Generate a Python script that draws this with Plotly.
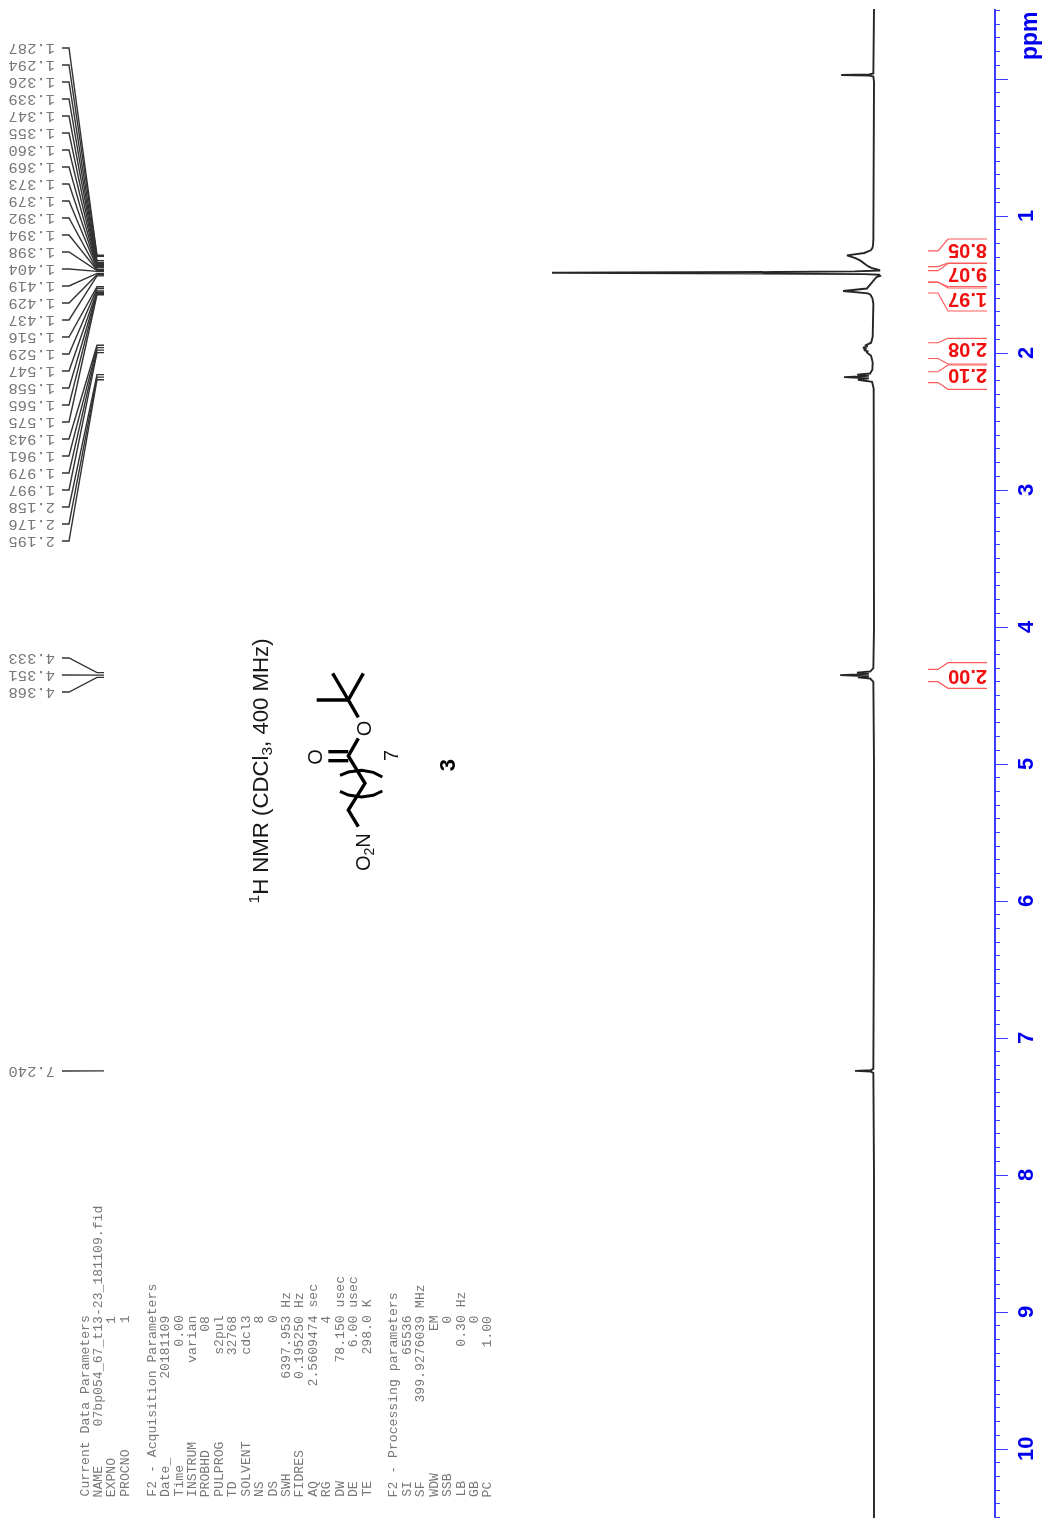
import plotly.graph_objects as go

W, H = 1043, 1528
TOP, BOTTOM = 9, 1518          # pixel extent of the ppm axis
PX_ZERO, PX_PER_PPM = 79.0, 137.0
BASE_X, PX_PER_UNIT = 874.0, 3.22


def ppm_at(py):
    return (py - PX_ZERO) / PX_PER_PPM


# ---- spectrum, ppm against intensity (% of tallest peak) ----
spec_ppm = [-0.511, -0.07, -0.04, -0.033, -0.029, -0.025, -0.018, 0.02, 0.5, 1.0, 1.17, 1.215, 1.234,
            1.25, 1.27, 1.287, 1.294, 1.307, 1.326, 1.339, 1.347, 1.355, 1.360, 1.369,
            1.373, 1.379, 1.392, 1.394, 1.398, 1.404, 1.409, 1.414, 1.419, 1.424, 1.429, 1.437,
            1.445, 1.482, 1.516, 1.529, 1.547, 1.558, 1.565, 1.575, 1.60, 1.64, 1.75, 1.88, 1.925,
            1.943, 1.952, 1.961, 1.970, 1.979, 1.988, 1.997, 2.02, 2.07, 2.12, 2.15, 2.158, 2.167,
            2.176, 2.185, 2.195, 2.21, 2.26, 3.0, 4.0, 4.30, 4.325, 4.333, 4.342, 4.351, 4.36,
            4.368, 4.376, 4.40, 5.0, 6.0, 7.0, 7.225, 7.235, 7.240, 7.245, 7.255, 8.0, 9.0, 10.0, 10.504]
spec_int = [0, 0, 0.2, 1.5, 10.2, 1.5, 0.2, 0, 0, 0.1, 0.2, 0.3, 0.5,
            1.0, 3, 8.4, 7.5, 5.8, 4.2, 3.6, 3.2, 2.6, 2.3, 1.6,
            1.2, 0.8, -1.2, -1.8, -1.9, 6, 30, 100, 28, 3, -1.6, -1.9,
            -0.8, 0.4, 1.6, 2.2, 9.6, 3.4, 1.9, 1.1, 0.5, 0.2, 0.2, 0.4, 0.9,
            2.5, 2.0, 3.4, 2.6, 3.1, 2.0, 2.2, 0.9, 0.4, 0.5, 1.2, 5.2, 1.6,
            9.3, 1.6, 5.0, 0.6, 0.1, 0, 0, 0.2, 1.2, 5.3, 1.6, 10.5, 1.6,
            5.0, 1.2, 0.2, 0, 0, 0, 0.2, 1, 5.9, 1, 0.2, 0, 0, 0, 0]

# ---- peak picking labels ----
peaks_main = [1.287, 1.294, 1.326, 1.339, 1.347, 1.355, 1.360, 1.369, 1.373, 1.379,
              1.392, 1.394, 1.398, 1.404, 1.419, 1.429, 1.437, 1.516, 1.529, 1.547,
              1.558, 1.565, 1.575, 1.943, 1.961, 1.979, 1.997, 2.158, 2.176, 2.195]
peaks_mid = [4.333, 4.351, 4.368]
peaks_solvent = [7.240]

# ---- integrals: value, start ppm, end ppm ----
integral_labels = ["8.05", "9.07", "1.97", "2.08", "2.10", "2.00"]
integral_start = [1.254, 1.399, 1.482, 1.925, 2.137, 4.310]
integral_end = [1.369, 1.484, 1.562, 2.040, 2.216, 4.399]

# ---- axis ----
tick_values = [0, 1, 2, 3, 4, 5, 6, 7, 8, 9, 10]
tick_labels = ["", "1", "2", "3", "4", "5", "6", "7", "8", "9", "10"]

# ---- acquisition text ----
param_rows = [
    ("Current Data Parameters", "", ""),
    ("NAME", "07bp054_67_t13-23_181109.fid", ""),
    ("EXPNO", "1", ""),
    ("PROCNO", "1", ""),
    ("", "", ""),
    ("F2 - Acquisition Parameters", "", ""),
    ("Date_", "20181109", ""),
    ("Time", "0.00", ""),
    ("INSTRUM", "varian", ""),
    ("PROBHD", "08", ""),
    ("PULPROG", "s2pul", ""),
    ("TD", "32768", ""),
    ("SOLVENT", "cdcl3", ""),
    ("NS", "8", ""),
    ("DS", "0", ""),
    ("SWH", "6397.953", "Hz"),
    ("FIDRES", "0.195250", "Hz"),
    ("AQ", "2.5609474", "sec"),
    ("RG", "4", ""),
    ("DW", "78.150", "usec"),
    ("DE", "6.00", "usec"),
    ("TE", "298.0", "K"),
    ("", "", ""),
    ("F2 - Processing parameters", "", ""),
    ("SI", "65536", ""),
    ("SF", "399.9276039", "MHz"),
    ("WDW", "EM", ""),
    ("SSB", "0", ""),
    ("LB", "0.30", "Hz"),
    ("GB", "0", ""),
    ("PC", "1.00", ""),
]

BLUE_LINE, BLUE_TEXT = "#3c3cff", "#0000ee"
RED_LINE, RED_TEXT = "#ff5a5a", "#f01010"
TEXT_GREY, LEAD = "#777777", "#333333"

fig = go.Figure()

# Spectrum on the intensity axis
fig.add_trace(go.Scatter(x=spec_int, y=spec_ppm, mode="lines", xaxis="x", yaxis="y",
                         line=dict(color="#262626", width=1.9), hoverinfo="skip"))


def px_line(xs, ys, color, width):
    fig.add_trace(go.Scatter(x=xs, y=[ppm_at(v) for v in ys], mode="lines", xaxis="x2", yaxis="y",
                             line=dict(color=color, width=width), hoverinfo="skip"))


annotations = []


def note(text, px, py, size, color, family, angle=0, bold=False, xanchor="center", yanchor="middle"):
    annotations.append(dict(
        text=f"<b>{text}</b>" if bold else text,
        xref="paper", yref="y", x=px / W, y=ppm_at(py), showarrow=False, textangle=angle,
        xanchor=xanchor, yanchor=yanchor, borderpad=0, borderwidth=0,
        font=dict(size=size, color=color, family=family)))


# Peak labels with leader lines
def leaders(values, first_slot, step, x0=69):
    for i, v in enumerate(values):
        slot = first_slot + i * step
        peak_y = PX_ZERO + v * PX_PER_PPM
        px_line([62, x0, 97, 104], [slot, slot, peak_y, peak_y], LEAD, 1.4)
        note(f"{v:.3f}", 31.5, slot, 15.5, TEXT_GREY, "Liberation Mono", angle=180)


leaders(peaks_main, 48, 17.0)
leaders(peaks_mid, 658, 17.0)
leaders(peaks_solvent, 1071, 0)

# Integrals
integral_slots = [(239, 263), (263.5, 286.5), (288, 311), (338.3, 364), (365, 389.3), (662.7, 688.3)]
label_y = [251, 275, 300, 350, 376, 677]
for lab, a, b, (s0, s1), ly in zip(integral_labels, integral_start, integral_end, integral_slots, label_y):
    for v, s in ((a, s0), (b, s1)):
        py = PX_ZERO + v * PX_PER_PPM
        px_line([928, 938, 948, 987], [py, py, s, s], RED_LINE, 1.2)
    note(lab, 967.5, ly, 20, RED_TEXT, "Liberation Sans", angle=180, bold=True)

# Parameter block
for i, (name, value, unit) in enumerate(param_rows):
    if not name:
        continue
    if value:
        line = name.ljust(9) + value if len(value) > 14 else name.ljust(8) + value.rjust(15)
        if unit:
            line += " " + unit
    else:
        line = name
    note(line.replace(" ", "\u00a0"), 85 + i * 13.43, 1497, 13.15, TEXT_GREY, "Liberation Mono",
         angle=-90, yanchor="bottom")

# Title and compound number
note("<sup>1</sup>H NMR (CDCl<sub>3</sub>, 400 MHz)", 260, 771.5, 22.2, "#1a1a1a", "Liberation Sans", angle=-90)
note("ppm", 1029, 36, 23, BLUE_TEXT, "Liberation Sans", angle=-90, bold=True)


# Structure drawing
def zx(v):
    return 230 + v / 3


def zy(v):
    return 630 + v / 3


bonds = [
    [(400, 130), (355, 210), (385, 262)],
    [(308, 130), (355, 210)],
    [(260, 210), (355, 210)],
    [(385, 325), (355, 378), (405, 460), (355, 540), (385, 590)],
    [(295, 365), (355, 365)],
    [(295, 392), (355, 392)],
]
for b in bonds:
    px_line([zx(p[0]) for p in b], [zy(p[1]) for p in b], "#000000", 3.4)
arcs = [
    [(330, 436), (355, 426), (395, 421), (430, 427), (457, 441)],
    [(330, 484), (355, 495), (395, 501), (430, 496), (457, 483)],
]
for a in arcs:
    px_line([zx(p[0]) for p in a], [zy(p[1]) for p in a], "#000000", 3)

note("O", zx(402), zy(295), 20, "#111111", "Liberation Sans", angle=-90)
note("O", zx(255), zy(380), 20, "#111111", "Liberation Sans", angle=-90)
note("O<sub>2</sub>N", zx(403), zy(665), 20, "#111111", "Liberation Sans", angle=-90)
note("7", zx(483), zy(378), 20, "#111111", "Liberation Sans", angle=-90)
note("3", zx(652), zy(405), 22, "#000000", "Liberation Sans", angle=-90, bold=True)

fig.update_layout(
    width=W, height=H, autosize=False,
    margin=dict(l=0, r=0, t=TOP, b=H - BOTTOM, pad=0),
    paper_bgcolor="white", plot_bgcolor="white", showlegend=False,
    annotations=annotations,
    xaxis=dict(visible=False, automargin=False,
               range=[BASE_X / PX_PER_UNIT, (BASE_X - W) / PX_PER_UNIT], fixedrange=True),
    xaxis2=dict(visible=False, automargin=False, overlaying="x", range=[0, W], fixedrange=True),
    yaxis=dict(
        range=[ppm_at(BOTTOM), ppm_at(TOP)], fixedrange=True, automargin=False,
        anchor="free", position=994.5 / W, side="right", zeroline=False, showgrid=False,
        showline=True, linecolor=BLUE_LINE, linewidth=1.6,
        tickmode="array", tickvals=tick_values,
        ticktext=[t + "\u00a0" if t else t for t in tick_labels], tickangle=-90,
        ticks="outside", ticklen=13, tickwidth=1.4, tickcolor=BLUE_LINE, ticklabelstandoff=-2,
        tickfont=dict(size=22, color=BLUE_TEXT, family="Liberation Sans", weight="bold"),
        minor=dict(tickmode="linear", tick0=0, dtick=0.1, ticks="outside", ticklen=5,
                   tickwidth=1.4, tickcolor=BLUE_LINE, showgrid=False),
    ),
)

fig.write_html("out.html", config={"displayModeBar": False},
               post_script="document.body.style.margin='0';document.documentElement.style.overflow='hidden';"
                           "document.querySelector('.plotly-graph-div').style.filter='blur(0.6px)';")
